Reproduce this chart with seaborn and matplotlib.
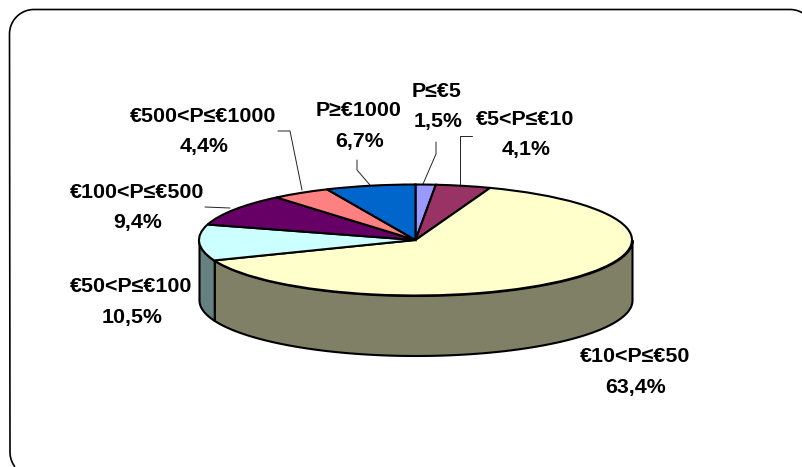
import numpy as np
import matplotlib
matplotlib.use("Agg")
import matplotlib.pyplot as plt
import seaborn as sns

# price bands, clockwise from 12 o'clock
categories = ["P≤€5", "€5<P≤€10", "€10<P≤€50", "€50<P≤€100",
              "€100<P≤€500", "€500<P≤€1000", "P≥€1000"]
shares = [1.5, 4.1, 63.4, 10.5, 9.4, 4.4, 6.7]
value_labels = ["1,5%", "4,1%", "63,4%", "10,5%", "9,4%", "4,4%", "6,7%"]

top_colors = ["#9999FF", "#993366", "#FFFFCC", "#CCFFFF", "#660066", "#FF8080", "#0066CC"]
wall_colors = ["#4D4D80", "#4D1A33", "#808066", "#668080", "#330033", "#804040", "#003366"]

# layout, in picture pixels
W, H = 803, 467
CX, CY = 415.5, 240
RX, RY = 216.5, 55.5
DEPTH = 60
LINE_GAP = 30.5
# centre x and baseline y of the first line of each label
LABEL_POS = [(437, 97), (525, 125), (635, 362), (131, 292.5),
             (137, 197.5), (203, 121.5), (359, 116.5)]
LEADERS = [
    [(436, 142), (436, 154), (423, 184)],
    [(472, 136), (460, 136), (460, 186)],
    [(205, 207), (230, 208)],
    [(278, 131), (290, 131), (302, 190)],
    [(357, 160), (357, 170), (370, 185)],
]


def arc(cx, cy, r, a0, a1):
    a = np.radians(np.linspace(a0, a1, 30))
    return cx + r * np.cos(a), cy + r * np.sin(a)


sns.set_theme(style="white")
plt.rcParams["font.family"] = ["Liberation Sans", "DejaVu Sans"]

fig = plt.figure(figsize=(W / 100, H / 100), dpi=100, facecolor="white")

# background layer: frame (runs off the right and bottom), labels, leader lines
bg = fig.add_axes([0, 0, 1, 1])
bg.set_xlim(0, W)
bg.set_ylim(H, 0)
bg.axis("off")
x1, y1 = arc(35, 452, 25, 145, 180)
x2, y2 = arc(34, 34, 24.5, 180, 270)
x3, y3 = arc(790, 34, 24.5, 270, 310)
bg.plot(np.r_[x1, x2, x3], np.r_[y1, y2, y3], color="black", linewidth=1.2)
for pts in LEADERS:
    xs, ys = zip(*pts)
    bg.plot(xs, ys, color="#222222", linewidth=0.7)
for (x, y), cat, val in zip(LABEL_POS, categories, value_labels):
    bg.text(x, y, cat, ha="center", va="baseline", fontsize=15.4, fontweight="bold", color="black")
    bg.text(x + 1, y + LINE_GAP, val, ha="center", va="baseline", fontsize=15.4, fontweight="bold", color="black")

# pie layer: unit circle squashed to the ellipse by the axis limits
ax = fig.add_axes([0, 0, 1, 1])
ax.patch.set_alpha(0)
depth = DEPTH / RY
edges = np.cumsum([0] + shares) / 100 * 360
for start, end, color in zip(edges[:-1], edges[1:], wall_colors):
    lo, hi = max(start, 90), min(end, 270)
    if lo >= hi:
        continue
    t = np.radians(np.linspace(lo, hi, 120))
    ax.fill_between(np.sin(t), np.cos(t), np.cos(t) - depth, facecolor=color,
                    edgecolor="black", linewidth=1.5)
ax.pie(shares, colors=sns.color_palette(top_colors), startangle=90, counterclock=False,
       wedgeprops=dict(edgecolor="black", linewidth=1.5))
ax.set_aspect("auto")
ax.set_xlim(-CX / RX, (W - CX) / RX)
ax.set_ylim((CY - H) / RY, CY / RY)

fig.savefig("out.png", dpi=100)
